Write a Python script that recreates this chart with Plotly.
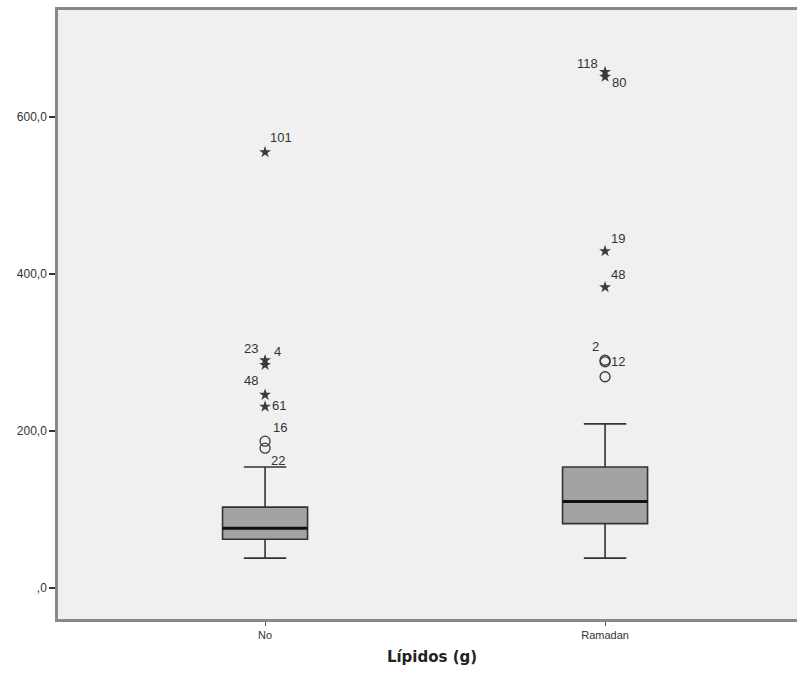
import plotly.graph_objects as go

# ---- data ----
categories = ["No", "Ramadan"]
cat_pos = [0, 1]
q1 = [62, 82]
median = [76, 110]
q3 = [103, 154]
lower_whisker = [38, 38]
upper_whisker = [154, 209]

no_out_vals = [555, 290, 284, 246, 231, 187, 178]
no_out_labels = ["101", "23", "4", "48", "61", "16", "22"]
no_out_kind = ["star", "star", "star", "star", "star", "circle", "circle"]

ram_out_vals = [657, 651, 429, 383, 290, 288, 269]
ram_out_labels = ["118", "80", "19", "48", "2", "12", ""]
ram_out_kind = ["star", "star", "star", "star", "circle", "circle", "circle"]

y_ticks = [0, 200, 400, 600]
y_ticktext = [",0", "200,0", "400,0", "600,0"]

x_title = "Lípidos (g)"

# label offsets in pixels (style)
no_label_shift = [(16, 15), (-14, 12), (12, 13), (-14, 14), (14, 1), (15, 14), (13, -12)]
ram_label_shift = [(-18, 9), (14, -6), (13, 13), (13, 13), (-10, 14), (13, 0), (0, 0)]

box_width = 0.25
FONT = "Liberation Sans, Arial, sans-serif"
LINE = "#333333"

fig = go.Figure()

for i, c in enumerate(categories):
    fig.add_trace(go.Box(
        x=[cat_pos[i]], q1=[q1[i]], median=[median[i]], q3=[q3[i]],
        lowerfence=[lower_whisker[i]], upperfence=[upper_whisker[i]],
        width=box_width, whiskerwidth=0.5,
        fillcolor="#a3a3a3", line=dict(color=LINE, width=1.6),
        boxpoints=False, showlegend=False, hoverinfo="skip",
    ))
    fig.add_trace(go.Scatter(
        x=[cat_pos[i] - box_width / 2, cat_pos[i] + box_width / 2],
        y=[median[i], median[i]], mode="lines",
        line=dict(color="#111111", width=3), showlegend=False, hoverinfo="skip",
    ))

def add_outliers(pos, vals, labels, kinds, shifts):
    sx = [pos for v, k in zip(vals, kinds) if k == "star"]
    sy = [v for v, k in zip(vals, kinds) if k == "star"]
    cx = [pos for v, k in zip(vals, kinds) if k == "circle"]
    cy = [v for v, k in zip(vals, kinds) if k == "circle"]
    fig.add_trace(go.Scatter(x=sx, y=sy, mode="markers",
                             marker=dict(symbol="star", size=9, color="#3a3a3a",
                                         line=dict(width=0)),
                             showlegend=False, hoverinfo="skip"))
    fig.add_trace(go.Scatter(x=cx, y=cy, mode="markers",
                             marker=dict(symbol="circle-open", size=10, color="#3a3a3a",
                                         line=dict(width=1.3)),
                             showlegend=False, hoverinfo="skip"))
    for v, lab, (dx, dy) in zip(vals, labels, shifts):
        if lab:
            fig.add_annotation(x=pos, y=v, text=lab, showarrow=False,
                               xshift=dx, yshift=dy,
                               font=dict(family=FONT, size=13, color="#333333"))

add_outliers(cat_pos[0], no_out_vals, no_out_labels, no_out_kind, no_label_shift)
add_outliers(cat_pos[1], ram_out_vals, ram_out_labels, ram_out_kind, ram_label_shift)

fig.update_layout(
    width=806, height=686,
    margin=dict(l=58, r=0, t=10, b=67),
    paper_bgcolor="white", plot_bgcolor="#f0f0f0",
    font=dict(family=FONT, size=11, color="#333333"),
    showlegend=False,
)
fig.update_xaxes(
    range=[-0.609, 1.591], tickvals=cat_pos, ticktext=categories,
    showgrid=False, zeroline=False,
    showline=True, linecolor="#888888", linewidth=2.5, mirror=True,
    ticks="outside", ticklen=4, tickcolor="#555555", tickwidth=1,
    tickfont=dict(family=FONT, size=11, color="#333333"),
    title=dict(text="<b>" + x_title + "</b>",
               font=dict(family="DejaVu Sans, sans-serif", size=15, color="#222222"),
               standoff=12),
)
fig.update_yaxes(
    range=[-39.5, 736], tickvals=y_ticks, ticktext=y_ticktext,
    showgrid=False, zeroline=False,
    showline=True, linecolor="#888888", linewidth=2.5,
    ticks="outside", ticklen=6, tickcolor="#333333", tickwidth=2,
    tickfont=dict(family=FONT, size=12, color="#333333"),
)

fig.write_html("out.html",
               config={"displayModeBar": False},
               post_script="document.body.style.margin='0';document.body.style.overflow='hidden';")
